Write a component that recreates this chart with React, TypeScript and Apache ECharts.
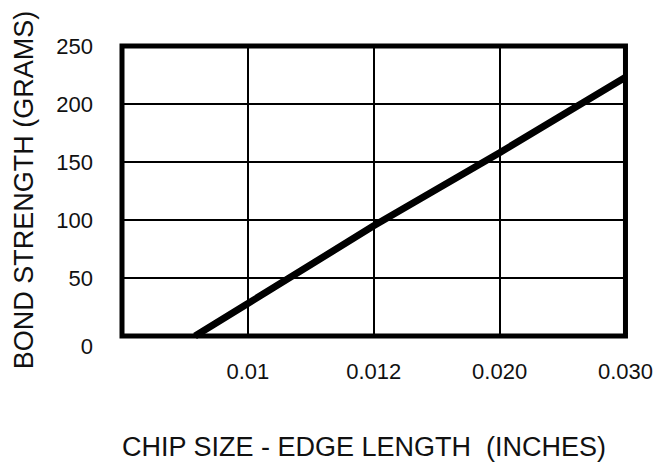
import React, { useEffect, useRef } from "react";
import * as echarts from "echarts";

const xTickLabels = ["", "0.01", "0.012", "0.020", "0.030"];
const yTicks = [0, 50, 100, 150, 200, 250];
const linePositions = [0.58, 1, 2, 3, 4];
const lineValues = [0, 28, 95, 158, 223];
const yTitle = "BOND STRENGTH (GRAMS)";
const xTitle = "CHIP SIZE - EDGE LENGTH  (INCHES)";

const FONT = "'Liberation Sans', Arial, Helvetica, sans-serif";

export default function App() {
  const ref = useRef<HTMLDivElement>(null);
  useEffect(() => {
    if (!ref.current) return;
    const chart = echarts.init(ref.current, null, { renderer: "svg" });
    const data = linePositions.map((x, i) => [x, lineValues[i]]);
    chart.setOption({
      animation: false,
      backgroundColor: "#fff",
      grid: {
        left: 122,
        top: 46,
        width: 504,
        height: 290,
        show: true,
        borderColor: "#000",
        borderWidth: 5,
        backgroundColor: "transparent",
        z: 10,
      },
      xAxis: {
        type: "value",
        min: 0,
        max: 4,
        interval: 1,
        axisLine: { show: false },
        axisTick: { show: false },
        splitLine: { show: true, lineStyle: { color: "#000", width: 2 } },
        axisLabel: {
          fontFamily: FONT,
          fontSize: 22,
          color: "#111",
          margin: 24,
          formatter: (v: number) => xTickLabels[Math.round(v)] ?? "",
        },
      },
      yAxis: {
        type: "value",
        min: yTicks[0],
        max: yTicks[yTicks.length - 1],
        interval: 50,
        axisLine: { show: false },
        axisTick: { show: false },
        splitLine: { show: true, lineStyle: { color: "#000", width: 2 } },
        axisLabel: {
          fontFamily: FONT,
          fontSize: 22,
          color: "#111",
          margin: 29,
          formatter: (v: number) => (v === 0 ? "{z|0}" : String(v)),
          rich: {
            z: { fontFamily: FONT, fontSize: 22, color: "#111", padding: [20, 0, 0, 0] },
          },
        },
      },
      series: [
        {
          type: "line",
          data,
          showSymbol: false,
          symbol: "none",
          lineStyle: { color: "#000", width: 7, cap: "butt" },
          clip: true,
          z: 5,
        },
      ],
      graphic: [
        {
          type: "text",
          x: 24,
          y: 190,
          rotation: Math.PI / 2,
          style: {
            text: yTitle,
            fontFamily: FONT,
            fontSize: 27,
            lineHeight: 27,
            fill: "#111",
            textAlign: "center",
            textVerticalAlign: "middle",
          },
        },
        {
          type: "text",
          x: 364,
          y: 447,
          style: {
            text: xTitle,
            fontFamily: FONT,
            fontSize: 27,
            lineHeight: 26,
            fill: "#111",
            textAlign: "center",
            textVerticalAlign: "middle",
          },
        },
      ],
    });
    return () => chart.dispose();
  }, []);
  return (
    <div
      ref={ref}
      style={{ position: "fixed", left: 0, top: 0, width: 656, height: 462, background: "#fff" }}
    />
  );
}
